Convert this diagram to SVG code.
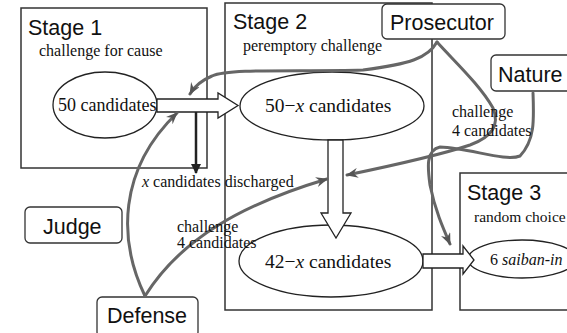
<svg xmlns="http://www.w3.org/2000/svg" width="567" height="333" viewBox="0 0 567 333">
<defs>
<style>
.stage{fill:none;stroke:#333;stroke-width:1.5}
.actor{fill:#fff;stroke:#333;stroke-width:1.3}
.ell{fill:#fff;stroke:#222;stroke-width:1.3}
.hollow{fill:#fff;stroke:#222;stroke-width:1.3;stroke-linejoin:miter}
.sans{font-family:"Liberation Sans",Arial,sans-serif;font-size:21.5px;fill:#111}
.serif{font-family:"Liberation Serif","Times New Roman",serif;font-size:16px;fill:#111}
.big{font-size:19.5px}
.curve{fill:none;stroke:#666;stroke-width:3;stroke-linecap:round}
</style>
<marker id="gh" viewBox="0 0 12 10" refX="11" refY="5" markerWidth="12" markerHeight="10" markerUnits="userSpaceOnUse" orient="auto">
<path d="M0,0 L12,5 L0,10 L4,5 Z" fill="#555"/>
</marker>
<marker id="bh" viewBox="0 0 10 10" refX="9" refY="5" markerWidth="10" markerHeight="10" markerUnits="userSpaceOnUse" orient="auto">
<path d="M0,0 L10,5 L0,10 Z" fill="#222"/>
</marker>
</defs>
<rect width="567" height="333" fill="#fff"/>

<g id="stage1">
<rect class="stage" x="21" y="8" width="186" height="160"/>
<text class="sans" x="28" y="35">Stage 1</text>
<text class="serif" x="39" y="56">challenge for cause</text>
</g>
<g id="stage2">
<rect class="stage" x="225" y="3" width="207" height="307"/>
<text class="sans" x="233" y="29">Stage 2</text>
<text class="serif" x="243" y="51">peremptory challenge</text>
</g>
<g id="stage3">
<rect class="stage" x="460" y="173" width="120" height="137"/>
<text class="sans" x="467" y="200">Stage 3</text>
<text class="serif" x="474" y="222" style="font-size:15.5px">random choice</text>
</g>

<g id="n50">
<ellipse class="ell" cx="105" cy="105" rx="52" ry="33"/>
<text class="serif" x="58" y="111" style="font-size:18px">50 candidates</text>
</g>
<g id="n50x">
<ellipse class="ell" cx="332" cy="106" rx="92" ry="34"/>
<text class="serif big" x="265" y="112">50−<tspan font-style="italic">x</tspan> candidates</text>
</g>
<g id="n42x">
<ellipse class="ell" cx="331" cy="261" rx="92" ry="36"/>
<text class="serif big" x="265" y="268">42−<tspan font-style="italic">x</tspan> candidates</text>
</g>
<g id="n6">
<ellipse class="ell" cx="522" cy="259" rx="54" ry="19"/>
<text class="serif" x="490" y="265"><tspan>6 </tspan><tspan font-style="italic">saiban-in</tspan></text>
</g>

<g id="prosecutor">
<rect class="actor" x="382" y="4" width="123" height="35" rx="5"/>
<text class="sans" x="390" y="30">Prosecutor</text>
</g>
<g id="nature">
<rect class="actor" x="491" y="55" width="90" height="36" rx="5"/>
<text class="sans" x="498" y="82">Nature</text>
</g>
<g id="judge">
<rect class="actor" x="25" y="207" width="97" height="36" rx="5"/>
<text class="sans" x="43" y="234">Judge</text>
</g>
<g id="defense">
<rect class="actor" x="97" y="297" width="101" height="40" rx="5"/>
<text class="sans" x="107" y="323">Defense</text>
</g>

<g id="connectors">
<polygon class="hollow" points="157,99 218,99 218,93 238,105.5 218,118 218,112 157,112"/>
<polygon class="hollow" points="328,140 328,213 321,213 336,238 351,213 343,213 343,140"/>
<polygon class="hollow" points="423,254 463,254 463,246 474,260 463,274 463,268 423,268"/>
<line x1="196" y1="112" x2="196" y2="173" stroke="#222" stroke-width="2.5" marker-end="url(#bh)"/>
<path class="curve" d="M437,42 C428,58 410,64 363,70 C300,72 230,68 212,76 C200,81 194,87 190,94" marker-end="url(#gh)"/>
<path class="curve" d="M437,42 C455,62 480,85 493,108 C500,125 492,137 470,145 C440,155 400,164 347,175" marker-end="url(#gh)"/>
<path class="curve" d="M533,93 C534,120 535,140 520,156 C505,162 470,148 440,147 C425,150 428,170 430,185 C435,210 443,228 450,244" marker-end="url(#gh)"/>
<path class="curve" d="M145,296 C118,240 118,170 177,113" marker-end="url(#gh)"/>
<path class="curve" d="M145,296 C180,240 240,205 327,179" marker-end="url(#gh)"/>
<text class="serif" x="142" y="187"><tspan font-style="italic">x</tspan> candidates discharged</text>
<text class="serif" x="177" y="232">challenge</text>
<text class="serif" x="177" y="248">4 candidates</text>
<text class="serif" x="452" y="117">challenge</text>
<text class="serif" x="452" y="136">4 candidates</text>
</g>
</svg>
